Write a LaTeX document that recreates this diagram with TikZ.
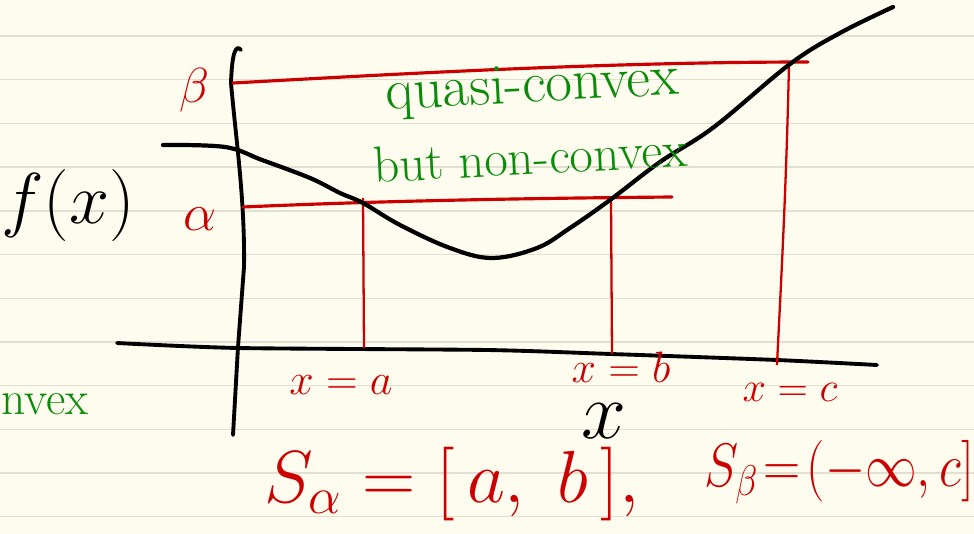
\documentclass[tikz,border=0pt]{standalone}
\usepackage{fix-cm}
\usepackage{amsmath,amssymb}
\usepackage{xcolor}
\usepackage{tikz}
\usetikzlibrary{positioning,calc}
\definecolor{paper}{RGB}{253,252,238}
\definecolor{rule}{RGB}{226,223,210}
\definecolor{inkred}{RGB}{204,0,0}
\definecolor{inkgreen}{RGB}{10,140,10}

\begin{document}
\begin{tikzpicture}[
  x=0.02cm, y=-0.02cm,
  axisline/.style={line width=2.2pt, line cap=round, black},
  curve/.style={line width=2.4pt, line cap=round, black},
  level/.style={line width=1.8pt, line cap=round, inkred},
  drop/.style={line width=1.3pt, inkred},
  redlabel/.style={inkred, inner sep=0pt},
  note/.style={inkgreen, inner sep=0pt}
]
% paper and ruling
\fill[paper] (0,0) rectangle (974,534);
\useasboundingbox (0,0) rectangle (974,534);
\foreach \k in {0,...,11}
  \draw[rule, line width=0.8pt] (0,36+43.7*\k) -- (974,36+43.7*\k);

% axes
\draw[axisline] (241,50) .. controls (236,44) and (232,52) .. (231,83)
  .. controls (236,140) and (245,200) .. (244,267) -- (238,347) -- (233,435);
\draw[axisline] plot[smooth, tension=0.4] coordinates
  {(117,343) (238,348) (487,350) (611,354) (777,360) (877,365)};

% level lines alpha and beta
\draw[level] (233,83) .. controls (380,75) and (600,62) .. (808,62);
\draw[level] (243,207) .. controls (400,200) and (560,198) .. (672,197);

% drop lines to the x axis
\draw[drop] (363,198) -- (364,348);
\draw[drop] (611,199) -- (612,354);
\draw[drop] (789,64) .. controls (786,200) and (780,300) .. (777,365);

% the function
\draw[curve] plot[smooth, tension=0.6] coordinates {
  (163,145) (225,147) (262,160) (310,178) (340,193) (363,203)
  (400,225) (450,248) (492,258) (537,248) (570,228) (610,200)
  (660,162) (714,127) (790,64) (840,33) (893,7)};

% labels
\node[redlabel, font=\fontsize{28}{28}\selectfont] (lbeta) at (194,90) {$\beta$};
\node[redlabel, font=\fontsize{30}{30}\selectfont] (lalpha) at (200,219) {$\alpha$};
\node[inner sep=0pt, font=\fontsize{41}{41}\selectfont] (fx) at (68,205) {$f(x)$};
\node[inner sep=0pt, font=\fontsize{46}{46}\selectfont] (xlab) at (604,421) {$x$};

\node[redlabel, font=\fontsize{25}{25}\selectfont] (xa) at (341,385) {$x=a$};
\node[redlabel, font=\fontsize{25}{25}\selectfont] (xb) at (621,367) {$x=b$};
\node[redlabel, font=\fontsize{24}{24}\selectfont] (xc) at (790,392) {$x=c$};

% green notes
\node[note, rotate=3, font=\fontsize{33}{34}\selectfont] (quasi) at (532,89) {quasi-convex};
\node[note, rotate=3, font=\fontsize{29}{34}\selectfont] (nonconv) at (530,157) {but non-convex};
\node[note, anchor=west, font=\fontsize{27}{34}\selectfont] (conv) at (1,404) {nvex};

% sublevel sets
\node[redlabel, font=\fontsize{42}{42}\selectfont, anchor=west] (salpha) at (264,484)
  {$S_\alpha = [\,a,\;b\,],$};
\node[redlabel, font=\fontsize{35}{35}\selectfont, anchor=west, xscale=0.84, transform shape]
  (sbeta) at (704,472) {$S_\beta\!=\!(-\infty,c]$};
\end{tikzpicture}
\end{document}
